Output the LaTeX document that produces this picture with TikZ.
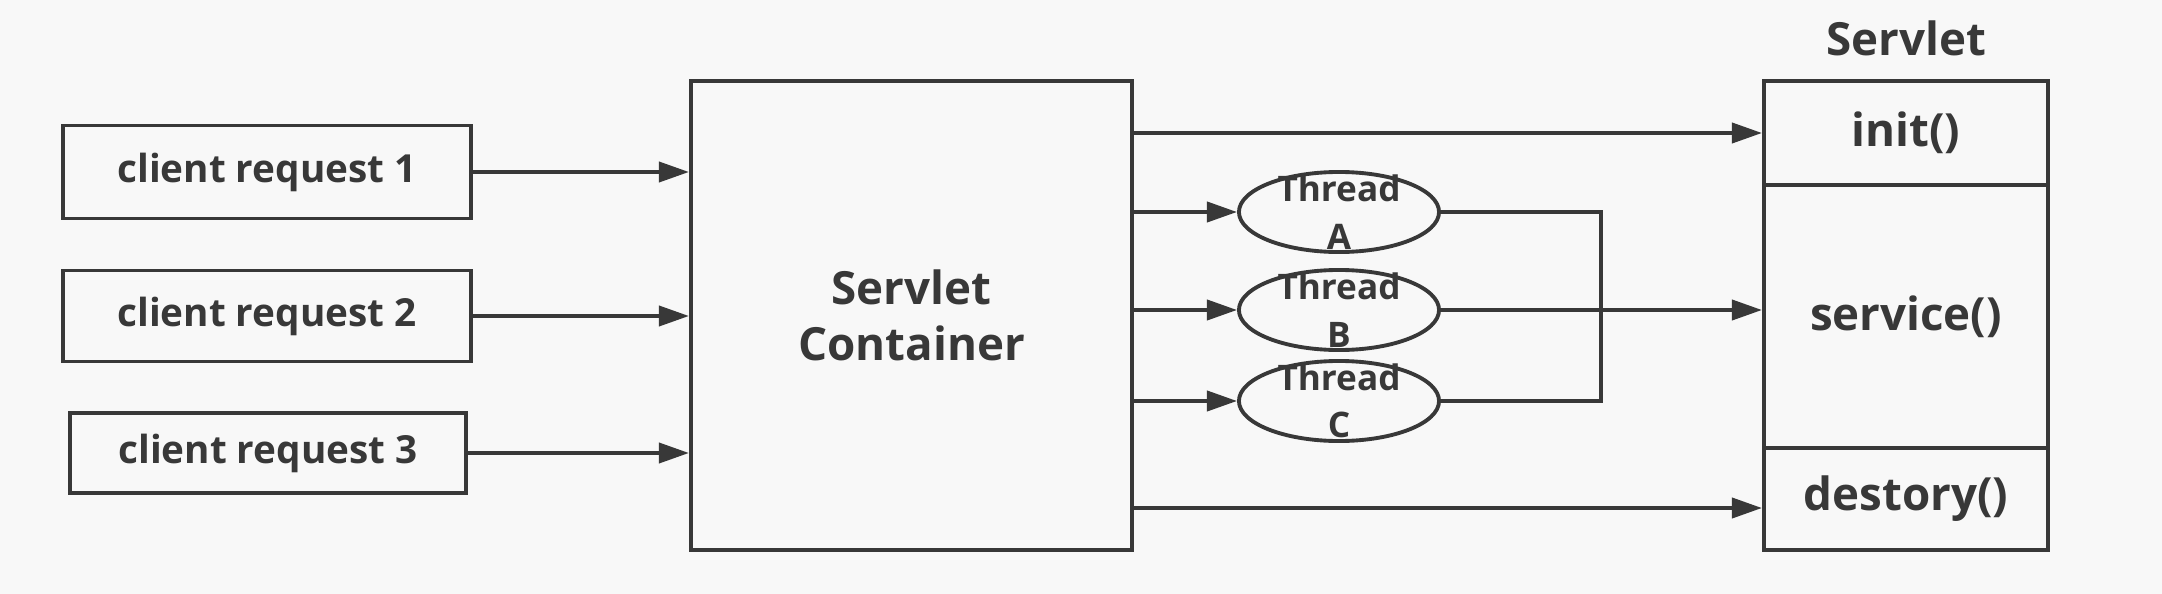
\documentclass[tikz,border=0pt]{standalone}
\usepackage{fontspec}
\setmainfont{Open Sans}
\usetikzlibrary{arrows.meta, shapes.geometric}
\definecolor{ink}{HTML}{383838}
\definecolor{paper}{HTML}{F8F8F8}

\begin{document}
\begin{tikzpicture}[x=0.01cm, y=-0.01cm, >={Triangle[length=3mm, width=2mm]}, line width=1.1pt, draw=ink, text=ink, font=\bfseries]
            \tikzset{
                box/.style={draw=ink, rectangle, inner sep=0pt},
                thr/.style={draw=ink, ellipse, minimum width=2cm, minimum height=0.8cm, inner sep=0pt},
                thrtext/.style={label={[align=center, inner sep=0pt, font=\bfseries\fontsize{10}{13.5}\selectfont]center:#1}},
            }
            \fill[paper] (0, 0) rectangle (2162, 594);
            \useasboundingbox (0, 0) rectangle (2162, 594);
            \node[box, minimum width=4.08cm, minimum height=0.93cm, font=\bfseries\fontsize{11}{13}\selectfont] (req1) at (267, 172) {client request 1};
            \node[box, minimum width=4.08cm, minimum height=0.91cm, font=\bfseries\fontsize{11}{13}\selectfont] (req2) at (267, 316) {client request 2};
            \node[box, minimum width=3.96cm, minimum height=0.80cm, font=\bfseries\fontsize{11}{13}\selectfont] (req3) at (268, 453) {client request 3};
            \node[box, minimum width=4.41cm, minimum height=4.69cm, align=center, font=\bfseries\fontsize{13}{16}\selectfont] (cont) at (911.5, 315.5) {Servlet\\Container};
            \node[thr, thrtext={Thread\\A}] (thA) at (1339, 212) {};
            \node[thr, thrtext={Thread\\B}] (thB) at (1339, 310) {};
            \node[thr, thrtext={Thread\\C}] (thC) at (1339, 401) {};
            \node[box, minimum width=2.84cm, minimum height=1.04cm, font=\bfseries\fontsize{13}{16}\selectfont] (init) at (1906, 133) {init()};
            \node[box, minimum width=2.84cm, minimum height=2.63cm, font=\bfseries\fontsize{13}{16}\selectfont] (serv) at (1906, 316.5) {service()};
            \node[box, minimum width=2.84cm, minimum height=1.02cm, font=\bfseries\fontsize{13}{16}\selectfont] (dest) at (1906, 499) {destory()};
            \node[font=\bfseries\fontsize{13}{16}\selectfont] (title) at (1906, 38) {Servlet};
            \coordinate (jn) at (1601, 310);
            \path[->]
                (req1.east) edge (req1.east -| cont.west)
                (req2.east) edge (req2.east -| cont.west)
                (req3.east) edge (req3.east -| cont.west)
                (init.west -| cont.east) edge (init.west)
                (thA.west -| cont.east) edge (thA.west)
                (thB.west -| cont.east) edge (thB.west)
                (thC.west -| cont.east) edge (thC.west)
                (thB.east) edge (thB.east -| serv.west)
                ([yshift=-0.09cm]dest.west -| cont.east) edge ([yshift=-0.09cm]dest.west)
            ;
            \draw (thA.east) -- (thA.east -| jn) -- (thC.east -| jn) -- (thC.east);
        \end{tikzpicture}
\end{document}
